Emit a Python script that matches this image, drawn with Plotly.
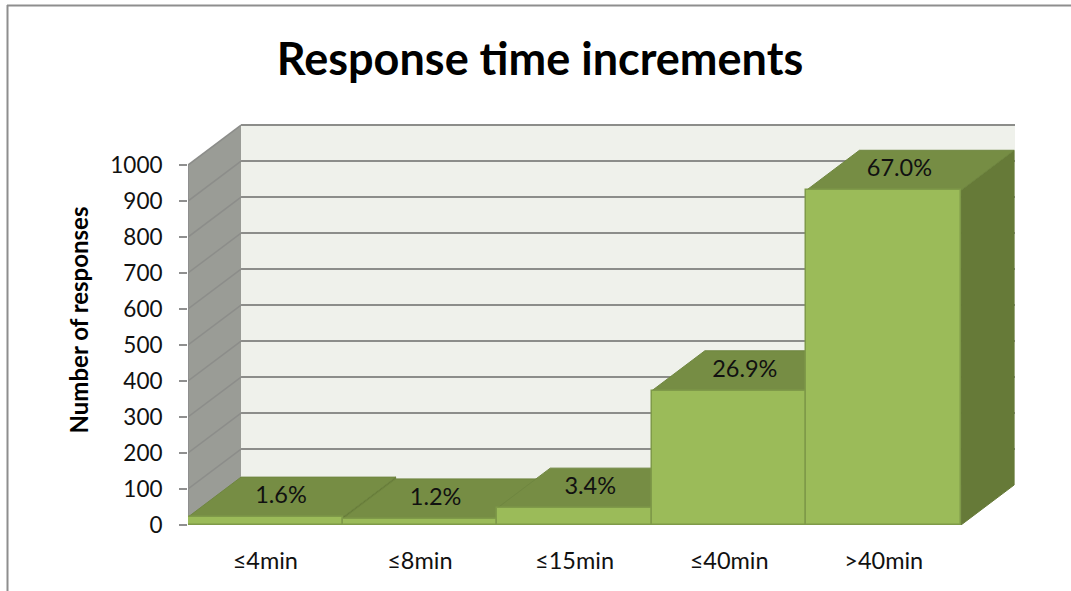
import plotly.graph_objects as go

# Chart content
categories = ["≤4min", "≤8min", "≤15min", "≤40min", ">40min"]
responses = [22, 17, 47, 373, 930]
shares = ["1.6%", "1.2%", "3.4%", "26.9%", "67.0%"]
y_ticks = [0, 100, 200, 300, 400, 500, 600, 700, 800, 900, 1000]

# Pseudo-3D extrusion, in axis units
DEPTH_X = 0.343
DEPTH_Y = 111
X_MAX = 5.349
Y_MAX = 1139

FRONT = "#9BBB59"
FRONT_EDGE = "#7F9A49"
TOP = "#768D44"
SIDE = "#667A38"
WALL_SIDE = "#9A9C96"
WALL_BACK = "#EFF1EB"
GRID = "#8C8D8A"
FRAME = "#8E8E8E"
FONT = "Lato"


def poly(points):
    return "M " + " L ".join(f"{x} {y}" for x, y in points) + " Z"


shapes = [
    # Walls behind the bars
    dict(type="path", xref="x", yref="y", layer="below", fillcolor=WALL_SIDE, line_width=0,
         path=poly([(0, 0), (DEPTH_X, DEPTH_Y), (DEPTH_X, 1000 + DEPTH_Y), (0, 1000)])),
    dict(type="path", xref="x", yref="y", layer="below", fillcolor=WALL_BACK, line_width=0,
         path=poly([(DEPTH_X, DEPTH_Y), (X_MAX, DEPTH_Y), (X_MAX, 1000 + DEPTH_Y), (DEPTH_X, 1000 + DEPTH_Y)])),
    # Outer frame of the chart area
    dict(type="line", xref="paper", yref="paper", x0=(7 - 188) / 827, x1=(1071 - 188) / 827,
         y0=(525 - 5.5) / 410, y1=(525 - 5.5) / 410, line=dict(color=FRAME, width=2)),
    dict(type="line", xref="paper", yref="paper", x0=(7.5 - 188) / 827, x1=(7.5 - 188) / 827,
         y0=(525 - 5) / 410, y1=(525 - 591) / 410, line=dict(color=FRAME, width=2)),
]

# Gridlines running along the side wall and across the back wall
for v in y_ticks:
    if v == 0:
        continue
    shapes.append(dict(type="line", xref="x", yref="y", layer="below", x0=0, y0=v,
                       x1=DEPTH_X, y1=v + DEPTH_Y, line=dict(color=GRID, width=1.5)))
    shapes.append(dict(type="line", xref="x", yref="y", layer="below", x0=DEPTH_X, y0=v + DEPTH_Y,
                       x1=X_MAX, y1=v + DEPTH_Y, line=dict(color=GRID, width=2)))

fig = go.Figure()

# Outline of the value and category axes
fig.add_trace(go.Scatter(x=[0, 0, len(categories)], y=[1000, 0, 0], mode="lines", cliponaxis=False,
                         line=dict(color="#8F8F8F", width=2), hoverinfo="skip", showlegend=False))

# Side and top faces, left to right
for i, v in enumerate(responses):
    fig.add_trace(go.Scatter(
        x=[i + 1, i + 1 + DEPTH_X, i + 1 + DEPTH_X, i + 1, i + 1],
        y=[0, DEPTH_Y, v + DEPTH_Y, v, 0],
        mode="lines", fill="toself", fillcolor=SIDE, line=dict(color=SIDE, width=1),
        hoverinfo="skip", showlegend=False))
    fig.add_trace(go.Scatter(
        x=[i, i + DEPTH_X, i + 1 + DEPTH_X, i + 1, i],
        y=[v, v + DEPTH_Y, v + DEPTH_Y, v, v],
        mode="lines", fill="toself", fillcolor=TOP, line=dict(color="#6F8640", width=1),
        hoverinfo="skip", showlegend=False))

# Front faces sit on an overlaid pair of axes so they cover the faces of their neighbours
centers = [i + 0.5 for i in range(len(categories))]
fig.add_trace(go.Bar(x=centers, y=responses, width=1, xaxis="x2", yaxis="y2",
                     marker=dict(color=FRONT, line=dict(color=FRONT_EDGE, width=1.5)),
                     showlegend=False, hovertemplate="%{y}<extra></extra>"))

fig.add_trace(go.Scatter(x=[c + DEPTH_X / 2 - 0.07 for c in centers],
                         y=[v + DEPTH_Y / 2 for v in responses],
                         text=shares, mode="text", xaxis="x2", yaxis="y2",
                         textfont=dict(family=FONT, size=23.5, color="#111111"),
                         hoverinfo="skip", showlegend=False))

fig.update_layout(
    width=1071, height=591,
    margin=dict(l=188, r=56, t=115, b=66),
    paper_bgcolor="white", plot_bgcolor="rgba(0,0,0,0)",
    font=dict(family=FONT, color="#111111"),
    title=dict(text="<b>Response time increments</b>", x=540 / 1071, xanchor="center",
               y=1 - 59 / 591, yanchor="middle", font=dict(family=FONT, size=45, color="#000000")),
    shapes=shapes,
    bargap=0,
    xaxis=dict(range=[0, X_MAX], tickvals=centers, ticktext=categories, ticks="",
               showgrid=False, zeroline=False, showline=False,
               tickfont=dict(family=FONT, size=23.5), ticklabelstandoff=19),
    yaxis=dict(range=[0, Y_MAX], tickvals=y_ticks, ticks="outside", ticklen=8, tickwidth=1.5,
               tickcolor="#8F8F8F", showgrid=False, zeroline=False, showline=False,
               tickfont=dict(family=FONT, size=22.5), ticklabelstandoff=12,
               title=dict(text="<b>Number of responses</b>", standoff=14,
                          font=dict(family=FONT, size=24, color="#000000"))),
    xaxis2=dict(range=[0, X_MAX], overlaying="x", anchor="y2", visible=False),
    yaxis2=dict(range=[0, Y_MAX], overlaying="y", anchor="x2", visible=False),
)

fig.write_html("out.html")
